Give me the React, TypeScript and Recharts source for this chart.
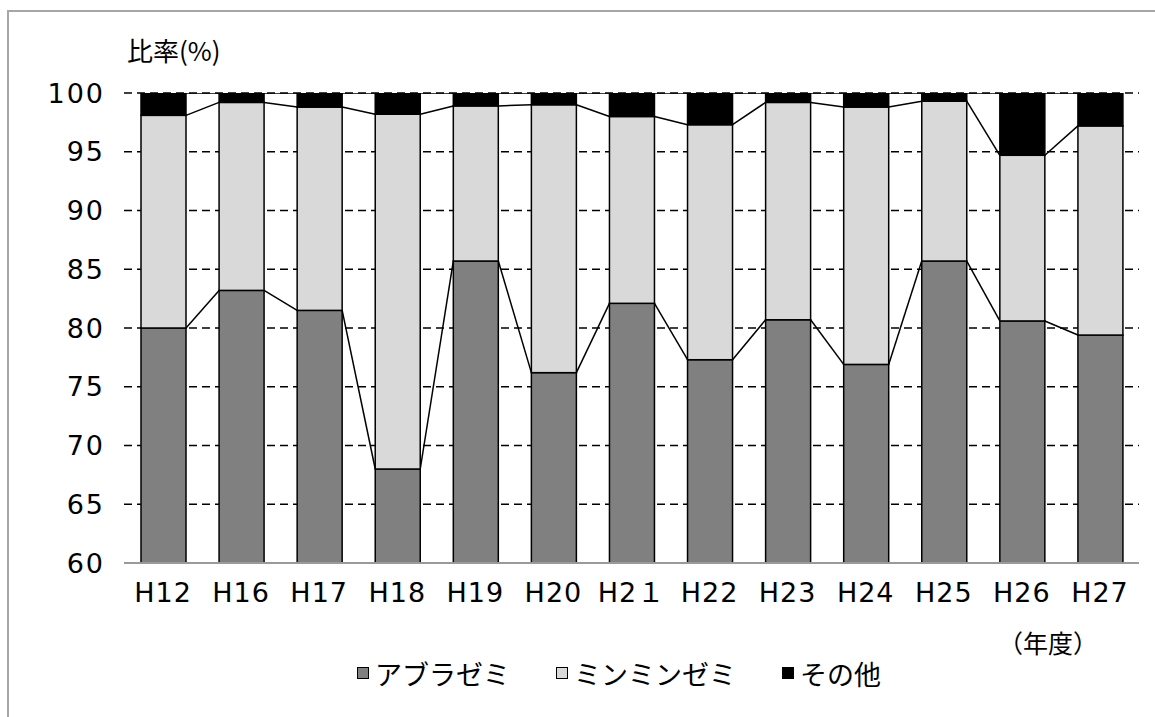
import React from "react";
import { BarChart, Bar, XAxis, YAxis, CartesianGrid, Legend } from "recharts";

// 年度ごとの比率(%)
const years = ["H12", "H16", "H17", "H18", "H19", "H20", "H2１", "H22", "H23", "H24", "H25", "H26", "H27"];
const aburazemi = [80.0, 83.2, 81.5, 68.0, 85.7, 76.2, 82.1, 77.3, 80.7, 76.9, 85.7, 80.6, 79.4];
const minminzemi = [18.1, 16.0, 17.3, 30.2, 13.2, 22.8, 15.9, 20.0, 18.5, 21.9, 13.6, 14.1, 17.8];
const sonota = [1.9, 0.8, 1.2, 1.8, 1.1, 1.0, 2.0, 2.7, 0.8, 1.2, 0.7, 5.3, 2.8];
const yTicks = [60, 65, 70, 75, 80, 85, 90, 95, 100];
const seriesNames = ["アブラゼミ", "ミンミンゼミ", "その他"];

const data = years.map((year, i) => ({
  year,
  abura: aburazemi[i],
  minmin: minminzemi[i],
  other: sonota[i],
}));

const FONT = '"Noto Sans CJK JP", "Noto Sans", sans-serif';
const NUM_FONT = '"DejaVu Sans", "Noto Sans CJK JP", sans-serif';

// bar tops of the previous category, so each bar can draw the series line back to it
const lastTop: Record<string, { x: number; y: number } | null> = {};

function segmentShape(key: string) {
  return (props: any) => {
    const { x, y, width, height, fill, index } = props;
    const prev = index === 0 ? null : lastTop[key];
    lastTop[key] = { x: x + width, y };
    return (
      <g>
        {prev && (
          <line x1={prev.x} y1={prev.y} x2={x} y2={y} stroke="#000" strokeWidth={1.5} />
        )}
        <rect x={x} y={y} width={width} height={height} fill={fill} stroke="#000" strokeWidth={1.5} />
      </g>
    );
  };
}

function LegendContent(props: any) {
  const items = [...(props.payload || [])].sort(
    (a: any, b: any) => seriesNames.indexOf(a.value) - seriesNames.indexOf(b.value)
  );
  return (
    <div style={{ display: "flex", alignItems: "center", height: 36, fontFamily: FONT, fontSize: 27, color: "#000" }}>
      {items.map((item: any, i: number) => (
        <div key={item.value} style={{ display: "flex", alignItems: "center", marginRight: i < items.length - 1 ? 46 : 0 }}>
          <span
            style={{
              display: "inline-block",
              width: 10,
              height: 10,
              background: item.color,
              border: "1.5px solid #000",
              marginRight: 6,
            }}
          />
          <span>{item.value}</span>
        </div>
      ))}
    </div>
  );
}

export default function App() {
  return (
    <div style={{ position: "relative", width: 1155, height: 717, overflow: "hidden", background: "#fff" }}>
      <style>{"body{margin:0;overflow:hidden}"}</style>
      <div
        style={{
          position: "absolute",
          left: 7,
          top: 10,
          width: 1300,
          height: 900,
          border: "2px solid #a6a6a6",
        }}
      />
      <div style={{ position: "absolute", left: 127, top: 36, fontFamily: FONT, fontSize: 26, lineHeight: "28px" }}>
        比率(%)
      </div>
      <div style={{ position: "absolute", left: 998, top: 628, fontFamily: FONT, fontSize: 25, lineHeight: "28px" }}>
        （年度）
      </div>
      <div style={{ position: "absolute", left: 0, top: 0 }}>
        <BarChart
          width={1155}
          height={717}
          data={data}
          margin={{ top: 93, right: 16, bottom: 114, left: 0 }}
          barSize={45}
        >
          <CartesianGrid vertical={false} stroke="#000" strokeWidth={1.5} strokeDasharray="8 5" />
          <XAxis
            dataKey="year"
            height={40}
            tickLine={false}
            tickSize={0}
            tickMargin={20}
            axisLine={{ stroke: "#9a9a9a", strokeWidth: 2 }}
            tick={{ fontSize: 27, fill: "#000", fontFamily: NUM_FONT, letterSpacing: 1 }}
            interval={0}
          />
          <YAxis
            width={124}
            domain={[60, 100]}
            ticks={yTicks}
            allowDataOverflow
            axisLine={false}
            tickLine={false}
            tickSize={0}
            tickMargin={19}
            tick={{ fontSize: 27, fill: "#000", fontFamily: NUM_FONT, letterSpacing: 2 }}
          />
          <Bar dataKey="abura" name="アブラゼミ" stackId="s" fill="#808080" shape={segmentShape("abura")} isAnimationActive={false} />
          <Bar dataKey="minmin" name="ミンミンゼミ" stackId="s" fill="#d9d9d9" shape={segmentShape("minmin")} isAnimationActive={false} />
          <Bar dataKey="other" name="その他" stackId="s" fill="#000000" shape={segmentShape("other")} isAnimationActive={false} />
          <Legend
            layout="horizontal"
            verticalAlign="middle"
            align="center"
            wrapperStyle={{ top: 655, left: 357, width: "auto" }}
            content={<LegendContent />}
          />
        </BarChart>
      </div>
    </div>
  );
}
